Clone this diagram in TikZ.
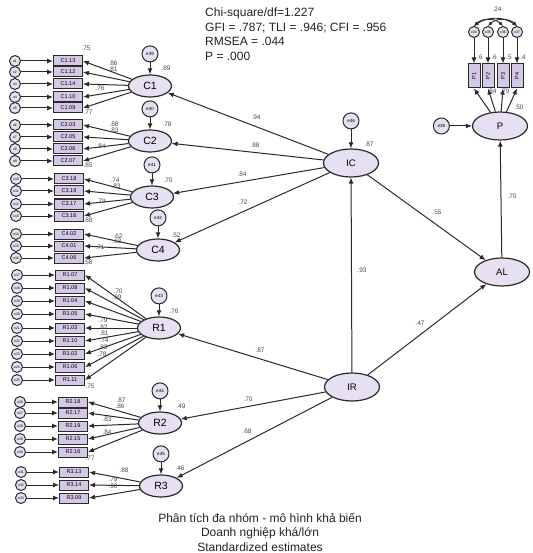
\documentclass[tikz,border=0pt]{standalone}
\usepackage{fontspec}
\setmainfont{Liberation Sans}
\usepackage{xcolor}
\definecolor{cFill}{HTML}{E6E0F2}
\definecolor{cBox}{HTML}{D4C8E6}
\definecolor{cLine}{HTML}{2A2A2A}
\definecolor{cLab}{HTML}{4A4A4A}
\definecolor{cText}{HTML}{222222}
\usetikzlibrary{positioning,arrows.meta,shapes.geometric}
\tikzset{
  node-lat/.style={ellipse,draw=cLine,line width=1.2pt,fill=cFill,
    minimum width=43pt,minimum height=22pt,inner sep=0pt,
    font=\fontsize{10.5}{10.5}\selectfont},
  node-lat-big/.style={node-lat,minimum width=55pt,minimum height=28pt,
    font=\fontsize{9.5}{9.5}\selectfont},
  node-err/.style={circle,draw=cLine,line width=1pt,fill=cFill,
    minimum size=16pt,inner sep=0pt,font=\fontsize{4.5}{4.5}\selectfont},
  node-err-small/.style={node-err,minimum size=11pt,
    font=\fontsize{3.5}{3.5}\selectfont},
  node-ind/.style={rectangle,draw=cLine,line width=1pt,fill=cBox,
    minimum width=29pt,minimum height=10pt,inner sep=0pt,
    font=\fontsize{5.5}{5.5}\selectfont},
  node-ind-up/.style={node-ind,rotate=90,minimum width=24pt,minimum height=12pt},
  arrow/.style={-{Latex[length=6pt,width=5pt]},line width=1pt,draw=cLine},
  arrow-both/.style={{Latex[length=4.5pt,width=4pt]}-{Latex[length=4.5pt,width=4pt]},
    line width=0.9pt,draw=cLine},
  est/.style={font=\fontsize{6.5}{6.5}\selectfont,text=cLab,inner sep=0pt},
  note/.style={font=\fontsize{12}{14.5}\selectfont,text=cText,inner sep=0pt},
}

\begin{document}
\begin{tikzpicture}[x=1pt,y=-1pt]
  \useasboundingbox (0,0) rectangle (532,553);
  % latent variables
  \node[node-lat] (C1) at (150,86)  {C1};
  \node[node-lat] (C2) at (150,141) {C2};
  \node[node-lat] (C3) at (152,197) {C3};
  \node[node-lat] (C4) at (158,250) {C4};
  \node[node-lat] (R1) at (159,328) {R1};
  \node[node-lat] (R2) at (160,423) {R2};
  \node[node-lat] (R3) at (161,486) {R3};
  \node[node-lat-big] (IC) at (351,163) {IC};
  \node[node-lat-big] (IR) at (352,387) {IR};
  \node[node-lat-big] (AL) at (502,272) {AL};
  \node[node-lat-big] (P)  at (500,126) {P};
  % residuals of latents
  \node[node-err,above=12pt of C1] (e39) {e39};
  \node[node-err,above=12pt of C2] (e40) {e40};
  \node[node-err,above=12pt of C3] (e41) {e41};
  \node[node-err,above=12pt of C4] (e42) {e42};
  \node[node-err,above=12pt of R1] (e43) {e43};
  \node[node-err,above=12pt of R2] (e44) {e44};
  \node[node-err,above=12pt of R3] (e45) {e45};
  \node[node-err,above=19pt of IC] (e46) {e46};
  \node[node-err,left=22pt of P]   (e38) {e38};
  \foreach \src/\dst in {e39/C1,e40/C2,e41/C3,e42/C4,e43/R1,e44/R2,e45/R3,e46/IC,e38/P}
    \draw[arrow] (\src) -- (\dst);
  % indicators
  \foreach \k/\lat/\code/\xx/\yy in {
    1/C1/C1.13/68/61, 2/C1/C1.12/68/72, 3/C1/C1.14/68/84, 4/C1/C1.10/68/97, 5/C1/C1.09/68/108,
    6/C2/C2.03/68/125, 7/C2/C2.05/68/137, 8/C2/C2.06/68/149, 9/C2/C2.07/68/161,
    10/C3/C3.18/69/179, 11/C3/C3.19/69/191, 12/C3/C3.17/69/204, 13/C3/C3.16/69/216,
    14/C4/C4.02/69/234, 15/C4/C4.01/69/246, 16/C4/C4.06/69/258,
    17/R1/R1.07/70/275, 18/R1/R1.08/70/288, 19/R1/R1.04/70/301, 20/R1/R1.05/70/314,
    21/R1/R1.03/70/328, 22/R1/R1.10/70/341, 23/R1/R1.02/70/354, 24/R1/R1.06/70/367,
    25/R1/R1.11/70/380,
    26/R2/R2.18/73/402, 27/R2/R2.17/73/413, 28/R2/R2.19/73/426, 29/R2/R2.15/73/439,
    30/R2/R2.16/73/452,
    31/R3/R3.13/74/472, 32/R3/R3.14/74/485, 33/R3/R3.09/74/498}{
    \node[node-ind] (v\k) at (\xx,\yy) {\code};
    \node[node-err-small,left=32pt of v\k] (e\k) {e\k};
    \draw[arrow] (e\k) -- (v\k);
    \draw[arrow] (\lat) -- (v\k.east);
  }
  % indicators of P
  \foreach \k/\code/\xx in {34/P1/474, 35/P2/488, 36/P3/503, 37/P4/517}{
    \node[node-ind-up] (v\k) at (\xx,76) {\code};
    \node[node-err-small] (e\k) at (\xx,32) {e\k};
    \draw[arrow] (e\k) -- (v\k);
    \draw[arrow] (P) -- (v\k.west);
  }
  \draw[arrow-both] (e34.north) to[bend left=45] (e36.north);
  \draw[arrow-both] (e35.north) to[bend left=45] (e37.north);
  \draw[arrow-both] (e34.north) to[bend left=35] (e37.north);
  % structural paths
  \foreach \src/\dst in {IC/C1,IC/C2,IC/C3,IC/C4,IR/R1,IR/R2,IR/R3,IR/IC,IC/AL,IR/AL,AL/P}
    \draw[arrow] (\src) -- (\dst);
  % estimates
  \foreach \v/\xx/\yy [count=\n] in {
    .75/86/48, .86/113/63, .81/113/69, .76/100/88, .77/88/112,
    .88/114/124, .83/114/130, .84/101/146, .85/88/165,
    .74/115/180, .83/116/186, .79/101/201, .88/88/220,
    .62/118/236, .63/117/241, .71/100/247, .58/88/262,
    .70/118/291, .69/117/297, .79/103/320, .82/103/327, .81/104/333,
    .74/104/340, .83/103/347, .78/102/354, .75/90/386,
    .87/121/400, .86/120/406, .83/107/419, .84/107/432, .77/90/458,
    .88/124/470, .79/113/479, .90/113/486,
    .89/166/68, .78/167/124, .70/168/180, .52/176/235, .76/174/311,
    .49/181/406, .46/180/468, .87/369/144,
    .94/256/117, .88/255/145, .84/242/174, .72/243/202, .55/437/212,
    .93/362/270, .47/420/323, .87/260/350, .70/248/399, .68/247/431,
    .70/512/196, .50/519/107, .84/492/91, .79/505/91,
    .6/480/57, .6/494/57, .5/509/57, .4/523/57, .24/497/9}
    \node[est] (est\n) at (\xx,\yy) {\v};
  % fit indices and caption
  \node[note,anchor=north west,align=left] (fit) at (205,8)
    {Chi-square/df=1.227\\GFI = .787; TLI = .946; CFI = .956\\RMSEA = .044\\P = .000};
  \node[note,align=center] (caption) at (260,532)
    {Phân tích đa nhóm - mô hình khả biến\\Doanh nghiệp khá/lớn\\Standardized estimates};
\end{tikzpicture}
\end{document}
